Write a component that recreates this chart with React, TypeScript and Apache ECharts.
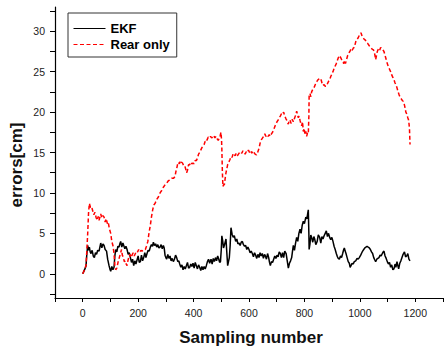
import React, { useEffect, useRef } from "react";
import * as echarts from "echarts";

const seriesNames = ["EKF", "Rear only"];
const xTickLabels = [0, 200, 400, 600, 800, 1000, 1200];
const yTickLabels = [0, 5, 10, 15, 20, 25, 30];
const yMinorTicks = [-2.5, 0, 2.5, 5, 7.5, 10, 12.5, 15, 17.5, 20, 22.5, 25, 27.5, 30, 32.5];

const ekfData: [number, number][] = [
  [0,0],[4,0.3],[8,0.6],[12,1.0],[15,2.5],[18,3.5],[21,2.9],[24,3.3],[27,2.7],[30,2.5],[34,2.9],[38,2.2],[42,2.0],[46,2.6],[50,2.4],[54,2.9],[59,2.8],[62,3.3],[65,3.8],[69,3.2],[73,3.7],[77,3.5],[81,3.0],[86,2.8],[90,1.8],[95,1.0],[98,0.6],[101,0.3],[105,0.9],[109,0.5],[113,0.8],[116,2.2],[119,3.0],[123,2.7],[127,3.4],[131,3.3],[134,3.7],[137,4.0],[141,3.3],[145,3.8],[148,3.5],[152,3.1],[156,3.4],[160,3.0],[164,2.4],[168,2.6],[172,2.0],[176,1.4],[180,1.8],[184,1.0],[188,1.6],[192,1.2],[196,1.7],[200,2.2],[204,1.4],[208,1.5],[212,2.3],[216,1.6],[220,2.0],[224,2.6],[228,2.0],[232,2.5],[236,2.9],[240,2.8],[244,3.3],[248,3.6],[252,3.4],[255,3.9],[259,3.5],[263,3.7],[267,3.3],[271,3.6],[275,3.2],[279,3.3],[283,3.6],[287,3.1],[291,3.5],[294,3.2],[297,2.3],[300,2.0],[303,1.8],[307,2.4],[311,1.9],[315,2.2],[319,1.6],[323,1.9],[327,1.5],[331,1.8],[335,2.3],[339,2.0],[343,1.5],[347,1.6],[350,1.2],[354,0.8],[358,1.1],[362,0.5],[366,0.9],[370,0.6],[374,1.0],[378,1.4],[382,0.7],[386,0.8],[390,1.2],[394,0.9],[398,1.3],[402,0.7],[406,1.4],[410,1.0],[414,0.6],[418,1.1],[422,0.8],[426,0.4],[430,0.9],[434,0.5],[438,0.9],[442,0.6],[446,1.0],[450,1.5],[454,1.8],[458,1.3],[463,1.8],[467,1.2],[471,1.9],[475,1.5],[479,2.0],[483,1.6],[487,2.2],[491,1.8],[494,1.4],[497,1.5],[500,3.0],[502,4.7],[505,4.1],[508,3.2],[511,3.5],[514,3.9],[517,4.3],[520,2.6],[523,1.0],[526,1.5],[529,2.0],[532,3.5],[535,5.7],[539,4.9],[543,4.5],[547,4.7],[552,4.0],[556,4.3],[560,3.7],[564,3.8],[568,3.5],[572,3.9],[576,4.0],[580,3.6],[584,3.4],[588,3.5],[592,3.0],[596,3.3],[600,3.0],[604,2.6],[608,2.8],[612,2.5],[616,2.1],[620,2.6],[624,2.3],[628,1.9],[632,2.4],[636,2.0],[640,2.6],[644,2.2],[648,2.5],[652,1.9],[656,2.4],[659,2.2],[663,1.8],[667,2.5],[671,2.0],[674,1.4],[677,1.0],[681,1.5],[685,1.4],[689,1.8],[693,2.2],[697,1.9],[701,2.3],[705,2.1],[709,2.7],[713,2.5],[717,2.0],[721,2.6],[725,2.0],[729,2.8],[734,2.5],[738,1.6],[742,0.7],[746,1.3],[750,1.6],[754,2.0],[757,2.8],[760,3.5],[764,2.9],[768,3.8],[772,4.5],[776,4.0],[780,5.0],[784,5.5],[788,5.0],[792,6.0],[796,6.5],[800,6.2],[805,7.0],[809,6.8],[812,7.5],[814,7.9],[816,5.0],[817,3.0],[820,3.7],[823,4.8],[826,4.5],[830,3.9],[834,4.6],[837,4.3],[841,3.6],[846,4.0],[850,4.8],[855,4.5],[859,3.8],[863,4.6],[867,4.3],[871,4.7],[875,5.0],[879,5.3],[883,4.6],[887,5.0],[891,4.5],[895,4.2],[899,4.5],[903,4.0],[907,3.4],[911,3.0],[915,2.5],[919,2.1],[922,1.9],[926,1.8],[930,2.2],[934,2.0],[938,2.5],[941,2.9],[944,3.2],[947,2.8],[950,2.5],[954,2.0],[958,1.5],[962,1.3],[965,0.8],[968,1.0],[972,1.3],[976,1.2],[980,1.5],[985,1.6],[990,1.9],[994,1.8],[998,2.0],[1003,2.3],[1007,2.6],[1010,2.8],[1014,3.0],[1018,3.2],[1022,3.3],[1026,3.4],[1030,3.3],[1034,3.2],[1038,3.0],[1042,2.7],[1046,2.5],[1050,2.0],[1054,1.7],[1057,1.5],[1061,1.8],[1065,1.9],[1069,2.0],[1073,2.3],[1077,2.2],[1081,2.5],[1084,2.7],[1087,2.8],[1091,2.2],[1095,1.9],[1099,1.5],[1103,1.2],[1107,1.4],[1111,0.8],[1115,1.1],[1119,0.5],[1123,0.6],[1127,1.2],[1130,0.8],[1134,1.5],[1137,1.0],[1140,0.6],[1144,1.3],[1148,1.6],[1152,2.0],[1156,2.4],[1161,2.7],[1165,2.1],[1169,2.2],[1173,2.5],[1177,1.8],[1181,1.6]
];

const rearData: [number, number][] = [
  [0,0],[4,0.3],[8,0.7],[12,1.0],[15,3.0],[18,5.0],[21,7.5],[24,8.7],[28,8.2],[32,8.3],[36,7.8],[40,7.3],[44,7.6],[48,7.0],[52,6.6],[56,7.1],[59,6.6],[62,7.0],[65,7.4],[69,6.9],[73,7.2],[77,7.0],[81,6.4],[85,6.8],[89,6.2],[92,6.4],[96,5.6],[101,5.0],[105,4.0],[109,3.5],[113,2.5],[116,1.0],[119,0.5],[123,0.7],[128,1.5],[132,2.0],[137,2.6],[140,3.0],[143,2.3],[147,2.0],[150,1.5],[154,1.6],[157,1.2],[160,1.0],[163,1.6],[166,2.0],[170,2.4],[174,2.0],[178,2.3],[182,2.6],[186,2.2],[190,2.5],[194,2.8],[198,2.7],[202,3.0],[206,2.7],[210,2.9],[214,2.8],[218,2.9],[222,3.0],[226,3.0],[230,3.4],[235,4.0],[239,5.0],[244,6.0],[248,7.0],[253,8.0],[257,8.5],[261,8.7],[267,9.2],[273,9.5],[279,10.0],[285,10.3],[291,10.7],[297,11.0],[303,11.2],[309,11.5],[315,11.6],[321,11.8],[327,11.8],[333,12.0],[336,12.6],[339,13.0],[342,13.5],[345,13.8],[349,13.6],[353,14.0],[356,13.8],[360,13.7],[364,13.4],[368,13.4],[372,12.9],[375,12.5],[378,12.8],[382,13.5],[386,13.5],[390,13.8],[394,13.6],[398,13.7],[402,13.6],[406,14.0],[410,14.0],[414,14.3],[418,14.8],[422,15.0],[426,15.3],[430,15.6],[434,15.8],[438,16.0],[442,16.4],[445,16.3],[449,16.6],[453,16.9],[457,16.8],[461,17.0],[465,16.8],[469,16.9],[473,17.1],[477,16.8],[481,17.0],[485,16.7],[489,16.5],[493,16.8],[496,17.1],[499,17.5],[501,16.5],[502,15.5],[504,12.5],[506,10.8],[508,11.0],[511,11.0],[514,11.8],[517,12.5],[520,13.0],[523,13.5],[527,13.8],[531,14.1],[535,14.5],[539,14.4],[543,14.9],[546,14.8],[550,14.6],[554,14.9],[558,14.6],[562,14.8],[566,15.0],[570,15.1],[574,14.9],[578,15.2],[582,15.0],[586,14.8],[590,15.1],[594,15.0],[598,15.3],[602,15.0],[606,15.2],[610,14.9],[614,15.2],[618,15.0],[622,14.8],[627,14.7],[631,15.0],[636,15.5],[641,16.3],[645,16.6],[649,16.8],[653,17.0],[657,17.3],[661,17.0],[665,17.2],[669,17.0],[673,17.2],[677,17.0],[681,17.3],[685,17.5],[689,17.8],[693,18.2],[697,18.5],[701,18.8],[705,19.0],[709,19.3],[713,19.5],[717,19.8],[721,19.7],[725,20.0],[729,19.5],[733,19.2],[736,19.0],[739,18.7],[742,18.5],[745,19.0],[748,19.0],[752,18.6],[756,19.1],[760,18.8],[764,19.2],[768,19.6],[772,20.1],[775,19.7],[778,19.3],[781,19.5],[784,19.0],[787,18.6],[790,18.3],[793,18.8],[796,17.6],[799,18.0],[802,17.2],[805,17.6],[808,17.0],[811,17.4],[814,17.3],[816,19.5],[817,22.0],[820,22.3],[823,21.9],[826,22.5],[830,22.8],[834,23.0],[837,23.2],[841,23.6],[845,23.8],[849,24.0],[853,24.1],[857,24.2],[861,23.9],[864,23.5],[867,23.3],[871,23.4],[875,23.2],[879,23.2],[883,23.5],[887,23.8],[891,24.0],[895,24.4],[899,24.7],[903,25.0],[907,25.4],[911,25.7],[915,26.0],[919,26.4],[922,26.7],[926,27.0],[930,26.8],[934,26.5],[938,26.3],[942,26.0],[945,26.4],[948,26.0],[952,26.5],[956,27.0],[960,27.3],[964,27.5],[968,27.8],[972,27.6],[976,27.9],[980,28.0],[983,28.4],[986,28.8],[990,29.0],[994,29.2],[998,29.5],[1001,29.6],[1004,29.8],[1008,29.4],[1012,29.2],[1016,29.0],[1020,28.9],[1024,28.6],[1028,28.5],[1032,28.3],[1036,28.1],[1040,28.0],[1044,27.8],[1049,27.7],[1053,27.3],[1057,26.5],[1060,27.0],[1063,27.5],[1067,27.8],[1071,27.6],[1075,28.0],[1079,27.8],[1083,27.7],[1087,27.5],[1091,27.0],[1095,26.5],[1099,26.0],[1103,25.6],[1107,25.3],[1111,25.0],[1115,24.6],[1119,24.3],[1123,24.0],[1127,23.6],[1131,23.3],[1134,23.0],[1138,22.5],[1142,22.1],[1146,21.8],[1150,21.6],[1154,21.4],[1158,21.3],[1162,20.7],[1166,20.0],[1170,19.7],[1173,19.3],[1176,19.0],[1179,18.0],[1181,16.0]
];

const FONT = "Arial, 'Liberation Sans', sans-serif";

export default function App() {
  const ref = useRef<HTMLDivElement>(null);
  useEffect(() => {
    if (!ref.current) return;
    const chart = echarts.init(ref.current, null, { renderer: "svg" });
    chart.setOption({
      animation: false,
      backgroundColor: "#fff",
      grid: { left: 55, top: 7, right: 0, bottom: 51, containLabel: false },
      legend: {
        orient: "vertical",
        left: 68,
        top: 13,
        padding: [9, 7, 6, 5],
        itemWidth: 32,
        itemHeight: 14,
        itemGap: 3,
        borderColor: "#333",
        borderWidth: 1,
        backgroundColor: "#fff",
        itemStyle: { opacity: 0 },
        lineStyle: { width: 1 },
        textStyle: { fontFamily: FONT, fontSize: 13, fontWeight: "bold", color: "#000" },
        data: seriesNames,
      },
      xAxis: {
        type: "value",
        min: -100,
        max: 1300,
        interval: 100,
        splitLine: { show: false },
        axisLine: { show: true, onZero: false, lineStyle: { color: "#000", width: 1.2 } },
        axisTick: { show: true, inside: false, length: 4, lineStyle: { color: "#000" } },
        axisLabel: {
          fontFamily: FONT,
          fontSize: 10.5,
          color: "#222",
          margin: 9,
          showMinLabel: true,
          showMaxLabel: true,
          formatter: (v: number) => (xTickLabels.includes(v) ? String(v) : ""),
        },
      },
      yAxis: {
        type: "value",
        min: -3,
        max: 33,
        splitLine: { show: false },
        axisLine: { show: true, onZero: false, lineStyle: { color: "#000", width: 1.2 } },
        axisTick: { show: true, inside: false, length: 5, customValues: yMinorTicks, lineStyle: { color: "#000" } },
        axisLabel: {
          fontFamily: FONT,
          fontSize: 10.5,
          color: "#222",
          margin: 10,
          customValues: yTickLabels,
        },
      },
      graphic: [
        {
          type: "text",
          x: 251,
          y: 337,
          style: {
            text: "Sampling number",
            font: `bold 17px ${FONT}`,
            fill: "#111",
            textAlign: "center",
            textVerticalAlign: "middle",
          },
        },
        {
          type: "text",
          x: 16,
          y: 165,
          rotation: Math.PI / 2,
          style: {
            text: "errors[cm]",
            font: `bold 17px ${FONT}`,
            fill: "#111",
            textAlign: "center",
            textVerticalAlign: "middle",
          },
        },
      ],
      series: [
        {
          name: seriesNames[0],
          type: "line",
          data: ekfData,
          symbol: "none",
          showSymbol: false,
          lineStyle: { color: "#000", width: 1.5 },
          itemStyle: { color: "#000" },
        },
        {
          name: seriesNames[1],
          type: "line",
          data: rearData,
          symbol: "none",
          showSymbol: false,
          lineStyle: { color: "#ff0000", width: 1.5, type: [4, 2.5] },
          itemStyle: { color: "#ff0000" },
        },
      ],
    });
    return () => chart.dispose();
  }, []);
  return (
    <div
      ref={ref}
      style={{ position: "fixed", left: 0, top: 0, width: 446, height: 349, background: "#fff" }}
    />
  );
}
